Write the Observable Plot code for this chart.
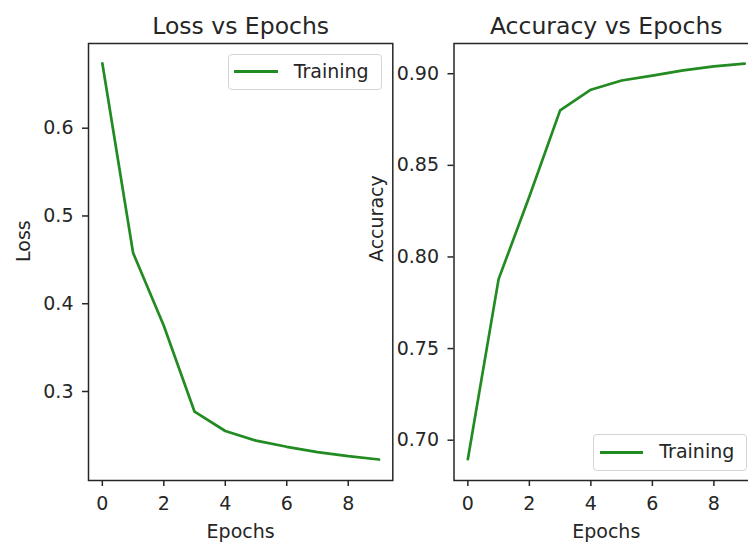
<!DOCTYPE html>
<html>
<head>
<meta charset="utf-8">
<script src="https://cdn.jsdelivr.net/npm/d3@7"></script>
<script src="https://cdn.jsdelivr.net/npm/@observablehq/plot@0.6"></script>
<style>
  html, body { margin: 0; padding: 0; background: white; }
  #root { position: relative; width: 748px; height: 543px; overflow: hidden; background: white; font-family: "DejaVu Sans", sans-serif; color: #262626; }
  .chart { position: absolute; top: 0; }
  .legend { position: absolute; box-sizing: border-box; border: 1.3px solid #d4d4d4; border-radius: 4px; background: rgba(255,255,255,0.85); font-size: 19px; color: #262626; }
  .legend .swatch { position: absolute; height: 3px; background: #228b22; }
  .legend .label { position: absolute; line-height: 1; }
</style>
</head>
<body>
<div id="root"></div>
<script>
const epochs = [0, 1, 2, 3, 4, 5, 6, 7, 8, 9];
const loss = [0.674, 0.458, 0.375, 0.277, 0.255, 0.244, 0.237, 0.231, 0.2263, 0.2225];
const accuracy = [0.6896, 0.7879, 0.833, 0.880, 0.8913, 0.8963, 0.899, 0.9018, 0.904, 0.9055];
const xTicks = [0, 2, 4, 6, 8];
const lossTicks = [0.3, 0.4, 0.5, 0.6];
const accTicks = [0.70, 0.75, 0.80, 0.85, 0.90];
const seriesName = "Training";

const green = "#228b22";
const ink = "#262626";
const root = document.getElementById("root");

function panel({values, yDomain, yTicks, yFormat, title, yLabel, width, marginLeft, marginRight, left, yLabelDx}) {
  const rows = values.map((v, i) => ({epoch: epochs[i], value: v}));
  const svg = Plot.plot({
    width, height: 543,
    marginLeft, marginRight, marginTop: 43, marginBottom: 63,
    style: {background: "transparent", maxWidth: "none", overflow: "visible", fontFamily: "DejaVu Sans, sans-serif", fontSize: "19px", color: ink},
    x: {domain: [-0.45, 9.45]},
    y: {domain: yDomain},
    marks: [
      Plot.line(rows, {x: "epoch", y: "value", stroke: green, strokeWidth: 2.7}),
      Plot.frame({stroke: ink, strokeWidth: 1.5}),
      Plot.axisX({ticks: xTicks, tickSize: 6, tickPadding: 10, strokeWidth: 1.5, fontSize: 19, label: null, tickFormat: d => String(d)}),
      Plot.axisY({ticks: yTicks, tickSize: 6, tickPadding: 9, strokeWidth: 1.5, fontSize: 19, label: null, tickFormat: d3.format(yFormat)}),
      Plot.text([title], {text: d => d, frameAnchor: "top", dy: -17.3, fontSize: 23.5, fill: ink, lineAnchor: "middle"}),
      Plot.text(["Epochs"], {text: d => d, frameAnchor: "bottom", dy: 51.7, fontSize: 19, fill: ink, lineAnchor: "middle"}),
      Plot.text([yLabel], {text: d => d, frameAnchor: "left", dx: yLabelDx, rotate: -90, fontSize: 19, fill: ink, lineAnchor: "middle"})
    ]
  });
  svg.classList.add("chart");
  svg.style.left = left + "px";
  root.appendChild(svg);
}

panel({values: loss, yDomain: [0.1986, 0.6965], yTicks: lossTicks, yFormat: ".1f", title: "Loss vs Epochs", yLabel: "Loss",
  width: 400, marginLeft: 88, marginRight: 7.7, left: 0, yLabelDx: -64.6});
panel({values: accuracy, yDomain: [0.678, 0.9165], yTicks: accTicks, yFormat: ".2f", title: "Accuracy vs Epochs", yLabel: "Accuracy",
  width: 410, marginLeft: 98.5, marginRight: 7, left: 355, yLabelDx: -77});

function legend(x, y, w, h) {
  const el = document.createElement("div");
  el.className = "legend";
  Object.assign(el.style, {left: x + "px", top: y + "px", width: w + "px", height: h + "px"});
  const sw = document.createElement("div");
  sw.className = "swatch";
  Object.assign(sw.style, {left: "5.5px", width: "43.5px", top: (h / 2 - 2.5) + "px"});
  const lb = document.createElement("div");
  lb.className = "label";
  lb.textContent = seriesName;
  Object.assign(lb.style, {left: "65px", top: (h / 2 - 11) + "px"});
  el.appendChild(sw); el.appendChild(lb);
  root.appendChild(el);
}
legend(227.7, 54, 154, 35.5);
legend(593.3, 434, 154, 36.5);
</script>
</body>
</html>
